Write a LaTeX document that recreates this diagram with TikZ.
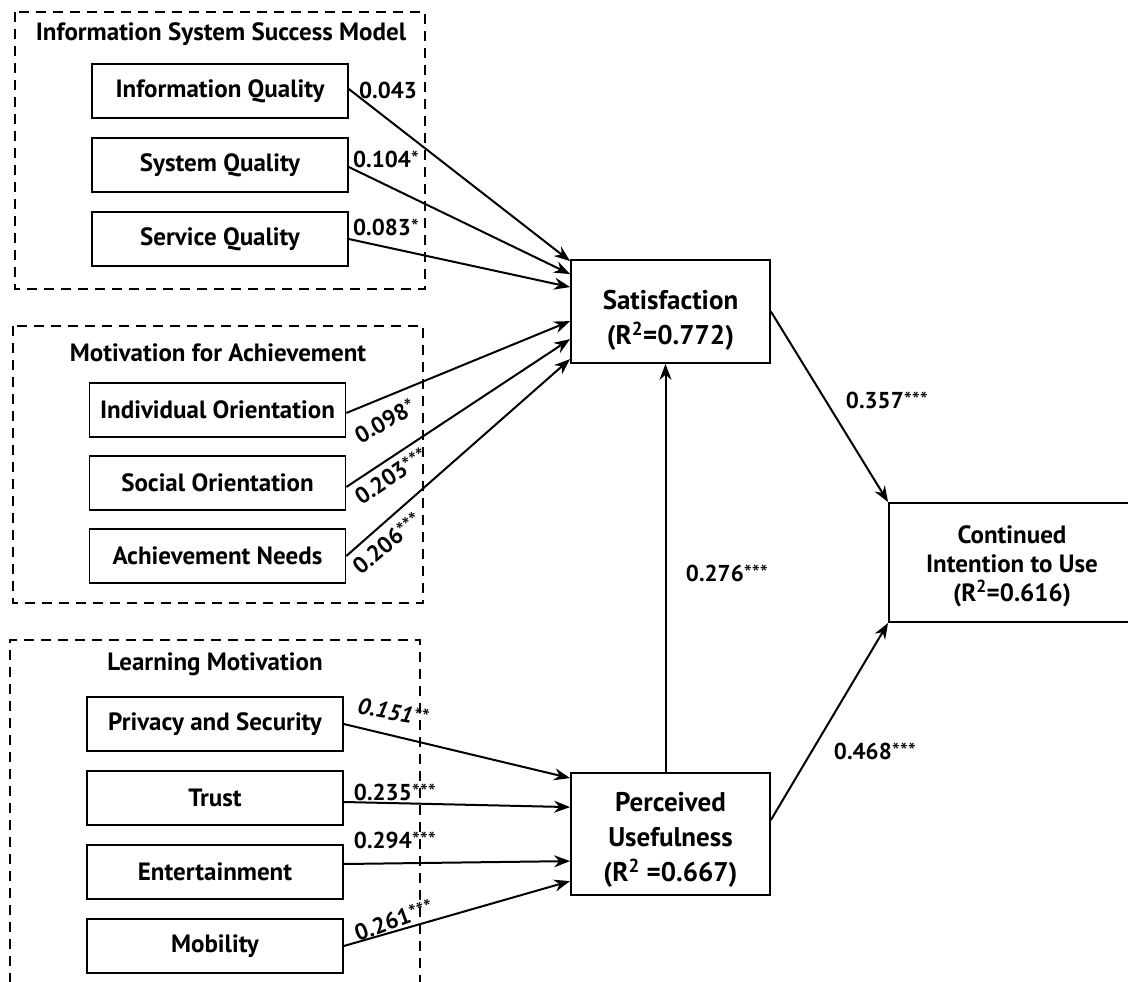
\documentclass[tikz,border=0pt]{standalone}
\usepackage{fontspec}
\setmainfont{PT Sans}
\usetikzlibrary{arrows.meta}
\newcommand{\stars}[1]{{\fontsize{23}{23}\selectfont\mdseries #1}}
\begin{document}
\begin{tikzpicture}[x=1pt,y=-1pt,
  every node/.style={font=\fontsize{25}{30}\selectfont\bfseries},
  item/.style={draw, line width=1.6pt, minimum width=256pt, minimum height=54pt, inner sep=0pt},
  bigbox/.style={draw, line width=1.8pt, minimum width=199pt, align=center, inner sep=0pt, font=\fontsize{27}{35}\selectfont\bfseries},
  group/.style={draw, line width=1.3pt, dash pattern=on 10pt off 7pt},
  arr/.style={line width=2pt, -{Stealth[length=16pt,width=12pt]}},
  coef/.style={inner sep=0pt, font=\fontsize{23}{26}\selectfont\bfseries}]
\useasboundingbox (0,0) rectangle (1128,982);
% groups
\draw[group] (15,12) rectangle (425,289);
\draw[group] (13,326) rectangle (423,603);
\draw[group] (10,1000) -- (10,640) -- (420,640) -- (420,1000);
\node (t1) at (221,34) {Information System Success Model};
\node (t2) at (218,353) {Motivation for Achievement};
\node (t3) at (215,664) {Learning Motivation};
% items
\node[item] (IQ) at (220,91) {Information Quality};
\node[item] (SQ) at (220,165) {System Quality};
\node[item] (SvQ) at (220,239) {Service Quality};
\node[item] (IO) at (217.5,410) {Individual Orientation};
\node[item] (SO) at (217.5,483) {Social Orientation};
\node[item] (AN) at (217.5,556) {Achievement Needs};
\node[item] (PS) at (215,724) {Privacy and Security};
\node[item] (TR) at (215,798) {Trust};
\node[item] (EN) at (215,872) {Entertainment};
\node[item] (MO) at (215,946) {Mobility};
% main
\node[bigbox, minimum height=103pt] (SAT) at (670.5,311.5) {\rule{0pt}{36pt}Satisfaction\\(R\textsuperscript{2}=0.772)};
\node[bigbox, minimum height=122pt] (PU) at (670.5,834) {\rule{0pt}{30pt}Perceived\\Usefulness\\(R\textsuperscript{2} =0.667)};
\node[draw, line width=1.8pt, minimum width=246pt, minimum height=119pt, align=center, inner sep=0pt,
  font=\fontsize{25}{29}\selectfont\bfseries] (CIU) at (1012,562.5) {\rule{0pt}{26pt}Continued\\Intention to Use\\(R\textsuperscript{2}=0.616)};
% arrows to satisfaction
\draw[arr] ([yshift=2pt]IQ.east) -- ([yshift=-2pt]SAT.north west);
\draw[arr] ([yshift=-2pt]SQ.east) -- ([yshift=-15pt]SAT.north west);
\draw[arr] (SvQ.east) -- ([yshift=-28pt]SAT.north west);
\draw[arr] ([yshift=-3pt]IO.east) -- ([yshift=-62pt]SAT.north west);
\draw[arr] ([yshift=-4pt]SO.east) -- ([yshift=-80pt]SAT.north west);
\draw[arr] (AN.east) -- ([yshift=-100pt]SAT.north west);
% arrows to PU
\draw[arr] (PS.east) -- ([yshift=-6pt]PU.north west);
\draw[arr] ([yshift=-4pt]TR.east) -- ([yshift=-35pt]PU.north west);
\draw[arr] ([yshift=8pt]EN.east) -- ([yshift=-89pt]PU.north west);
\draw[arr] (MO.east) -- ([yshift=-109pt]PU.north west);
% main arrows
\draw[arr] ([xshift=-5pt]PU.north) -- ([xshift=-5pt]SAT.south);
\draw[arr] (SAT.east) -- (CIU.north west);
\draw[arr] ([yshift=14pt]PU.east) -- (CIU.south west);
% coefficients
\node[coef] (c1) at (388,90) {0.043};
\node[coef] (c2) at (386,159) {0.104\stars{*}};
\node[coef] (c3) at (386,227) {0.083\stars{*}};
\node[coef, rotate=30] (c4) at (385,421) {0.098\stars{*}};
\node[coef, rotate=34] (c5) at (391,476) {0.203\stars{***}};
\node[coef, rotate=40] (c6) at (387,543) {0.206\stars{***}};
\node[coef, rotate=-10, font=\fontsize{23}{26}\selectfont\bfseries\itshape] (c7) at (393,712) {0.151\stars{**}};
\node[coef] (c8) at (395,792) {0.235\stars{***}};
\node[coef] (c9) at (395,840) {0.294\stars{***}};
\node[coef, rotate=20] (c10) at (394,920) {0.261\stars{***}};
\node[coef] (c11) at (887,400) {0.357\stars{***}};
\node[coef] (c12) at (727,573) {0.276\stars{***}};
\node[coef] (c13) at (875,751) {0.468\stars{***}};
\end{tikzpicture}
\end{document}
